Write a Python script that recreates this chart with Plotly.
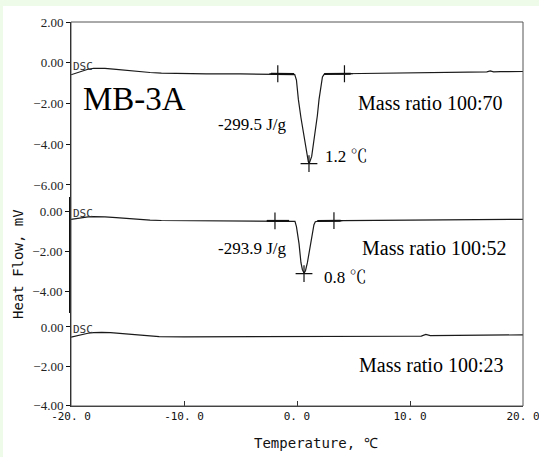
import plotly.graph_objects as go

# ---------------- data ----------------
temp_top = [-20.0, -19.5, -19.0, -18.5, -18.0, -17.5, -17.0, -16.0, -15.0, -14.0, -13.0, -12.0,
            -10.0, -8.0, -5.0, -3.0, -1.0, -0.5, -0.2, -0.05, 0.12, 0.35, 0.56, 0.75, 0.91, 1.0,
            1.06, 1.12, 1.3, 1.45, 1.62, 1.8, 1.95, 2.12, 2.25, 2.4, 2.7, 4.0, 6.0, 8.0, 10.0,
            12.0, 14.0, 16.0, 16.8, 17.1, 17.4, 18.0, 20.0]
flow_top = [-0.59, -0.50, -0.40, -0.32, -0.27, -0.26, -0.28, -0.33, -0.39, -0.44, -0.48, -0.51,
            -0.54, -0.55, -0.55, -0.55, -0.55, -0.55, -0.58, -0.85, -1.8, -2.7, -3.45, -4.1, -4.6,
            -4.85, -4.93, -4.88, -4.6, -4.05, -3.45, -2.6, -1.8, -1.0, -0.7, -0.57, -0.54, -0.54,
            -0.53, -0.52, -0.51, -0.50, -0.48, -0.46, -0.45, -0.40, -0.45, -0.44, -0.43]

temp_mid = [-20.0, -19.5, -19.0, -18.5, -18.0, -17.4, -17.0, -16.0, -15.0, -14.0, -13.0, -12.0,
            -10.0, -6.0, -3.0, -1.0, -0.5, -0.18, -0.05, 0.05, 0.18, 0.35, 0.48, 0.62, 0.75, 0.92,
            1.05, 1.21, 1.38, 1.5, 1.62, 2.0, 4.0, 8.0, 12.0, 16.0, 20.0]
flow_mid = [-0.38, -0.33, -0.29, -0.26, -0.25, -0.24, -0.26, -0.30, -0.35, -0.39, -0.42, -0.44,
            -0.45, -0.46, -0.46, -0.46, -0.46, -0.48, -0.75, -1.1, -1.6, -2.55, -2.9, -3.07, -2.95,
            -2.55, -2.1, -1.6, -1.0, -0.65, -0.5, -0.46, -0.45, -0.44, -0.42, -0.40, -0.38]

temp_bot = [-20.0, -19.5, -19.0, -18.5, -18.0, -17.3, -16.5, -15.5, -14.0, -13.0, -12.2, -10.0,
            -5.0, 0.0, 5.0, 10.0, 11.0, 11.4, 11.8, 14.0, 17.0, 20.0]
flow_bot = [-0.52, -0.45, -0.38, -0.32, -0.29, -0.27, -0.29, -0.33, -0.40, -0.45, -0.49, -0.50,
            -0.50, -0.49, -0.48, -0.47, -0.46, -0.38, -0.44, -0.43, -0.41, -0.40]

# onset / endset / peak markers
mark_top_t = [-1.7, 4.2, 1.06]
mark_top_f = [-0.54, -0.54, -4.95]
mark_mid_t = [-1.95, 3.27, 0.62]
mark_mid_f = [-0.46, -0.45, -3.1]

# extrapolated baselines drawn by the instrument software
base_top_t = [-2.3, -0.25, None, 2.4, 4.75]
base_top_f = [-0.54, -0.55, None, -0.55, -0.54]
base_mid_t = [-2.65, -0.7, None, 1.8, 3.86]
base_mid_f = [-0.46, -0.46, None, -0.46, -0.45]

x_ticks = [-20, -10, 0, 10, 20]
x_tick_labels = ["-20. 0", "-10. 0", "0. 0", "10. 0", "20. 0"]
y_top_ticks = [2, 0, -2, -4, -6]
y_top_labels = ["2.00", "0.00", "\u22122.00", "\u22124.00", "\u22126.00"]
y_low_ticks = [0, -2, -4]
y_low_labels = ["0.00", "\u22122.00", "\u22124.00"]

sample_name = "MB-3A"
ratio_labels = ["Mass ratio 100:70", "Mass ratio 100:52", "Mass ratio 100:23"]
enthalpy_labels = ["-299.5 J/g", "-293.9 J/g"]
peak_labels = ["1.2 \u2103", "0.8 \u2103"]

# ---------------- figure ----------------
CURVE = dict(color="#1a1a1a", width=1.2)
SERIF = "Liberation Serif, Times New Roman, Noto Serif CJK JP, Noto Sans CJK JP, serif"
MONO = "DejaVu Sans Mono, monospace"

fig = go.Figure()
for t, f, ya in [(temp_top, flow_top, "y"), (temp_mid, flow_mid, "y2"), (temp_bot, flow_bot, "y3")]:
    fig.add_trace(go.Scatter(x=t, y=f, mode="lines", line=CURVE, xaxis="x", yaxis=ya,
                             hoverinfo="skip"))
for t, f, ya in [(base_top_t, base_top_f, "y"), (base_mid_t, base_mid_f, "y2")]:
    fig.add_trace(go.Scatter(x=t, y=f, mode="lines", line=dict(color="#111", width=2),
                             xaxis="x", yaxis=ya, connectgaps=False, hoverinfo="skip"))
for t, f, ya in [(mark_top_t, mark_top_f, "y"), (mark_mid_t, mark_mid_f, "y2")]:
    fig.add_trace(go.Scatter(x=t, y=f, mode="markers", xaxis="x", yaxis=ya,
                             marker=dict(symbol="cross-thin", size=12,
                                         line=dict(color="#111", width=1.2)),
                             hoverinfo="skip"))

yax_common = dict(anchor="x", showline=True, linecolor="#111", ticks="outside", ticklen=4,
                  tickcolor="#111", showgrid=False, zeroline=False, automargin=False,
                  tickfont=dict(family=SERIF, size=13, color="#222"))

fig.update_layout(
    width=539, height=457,
    margin=dict(l=71, r=16, t=22, b=51, autoexpand=False),
    paper_bgcolor="white", plot_bgcolor="white",
    showlegend=False,
    xaxis=dict(range=[-20, 20], anchor="y3", tickvals=x_ticks, ticktext=x_tick_labels,
               ticks="inside", ticklen=5, tickcolor="#333", showline=True, linecolor="#333",
               showgrid=False, zeroline=False, ticklabeloverflow="allow", automargin=False,
               tickfont=dict(family=MONO, size=11, color="#111")),
    yaxis=dict(domain=[0.5443, 1.0], range=[-6.59, 2.0], tickvals=y_top_ticks,
               ticktext=y_top_labels, linewidth=1, **yax_common),
    yaxis2=dict(domain=[0.2422, 0.5443], range=[-5.065, 0.735], tickvals=y_low_ticks,
                ticktext=y_low_labels, linewidth=2, **yax_common),
    yaxis3=dict(domain=[0.0, 0.2422], range=[-4.01, 0.709], tickvals=y_low_ticks,
                ticktext=y_low_labels, linewidth=1, **yax_common),
)

# frame
fig.add_shape(type="rect", xref="paper", yref="paper", x0=0, x1=1, y0=0, y1=1,
              line=dict(color="#555", width=1), layer="above")
# light green page border strips
GREEN = "#eefbe9"
fig.add_shape(type="rect", xref="paper", yref="paper", x0=-0.16, x1=1.04, y0=1.0417, y1=1.06,
              fillcolor=GREEN, line=dict(width=0), layer="below")
fig.add_shape(type="rect", xref="paper", yref="paper", x0=-0.16, x1=-0.1504, y0=-0.14, y1=1.06,
              fillcolor=GREEN, line=dict(width=0), layer="below")

ann = []
# axis titles
ann.append(dict(text="Temperature, \u2103", xref="paper", yref="paper", x=0.542, y=-0.0964,
                xanchor="center", yanchor="middle", showarrow=False,
                font=dict(family=MONO, size=14, color="#111")))
ann.append(dict(text="Heat Flow, mV", xref="paper", yref="paper", x=-0.1173, y=0.3698,
                xanchor="center", yanchor="middle", textangle=-90, showarrow=False,
                font=dict(family=MONO, size=14, color="#111")))
# DSC tags
for ya, yv in [("y", -0.2), ("y2", -0.1), ("y3", -0.13)]:
    ann.append(dict(text="DSC", xref="x", yref=ya, x=-20, y=yv, xanchor="left",
                    yanchor="middle", xshift=0, showarrow=False,
                    font=dict(family=MONO, size=11, color="#333")))
# sample name
ann.append(dict(text=sample_name, xref="x", yref="y", x=-14.34, y=-1.76, showarrow=False,
                xanchor="center", yanchor="middle",
                font=dict(family=SERIF, size=33, color="#000")))
# ratio labels
for lab, ya, xv, yv in zip(ratio_labels, ["y", "y2", "y3"], [11.77, 12.12, 11.83],
                           [-1.96, -1.83, -1.92]):
    ann.append(dict(text=lab, xref="x", yref=ya, x=xv, y=yv, showarrow=False,
                    xanchor="center", yanchor="middle",
                    font=dict(family=SERIF, size=20, color="#000")))
# enthalpies
for lab, ya, yv in zip(enthalpy_labels, ["y", "y2"], [-3.04, -1.83]):
    ann.append(dict(text=lab, xref="x", yref=ya, x=-3.91, y=yv, showarrow=False,
                    xanchor="center", yanchor="middle",
                    font=dict(family=SERIF, size=17, color="#000")))
# peak temperatures
for lab, ya, xv, yv in zip(peak_labels, ["y", "y2"], [4.42, 4.27], [-4.59, -3.28]):
    ann.append(dict(text=lab, xref="x", yref=ya, x=xv, y=yv, showarrow=False,
                    xanchor="center", yanchor="middle",
                    font=dict(family=SERIF, size=17, color="#000")))

fig.update_layout(annotations=ann)
fig.write_html("out.html")
